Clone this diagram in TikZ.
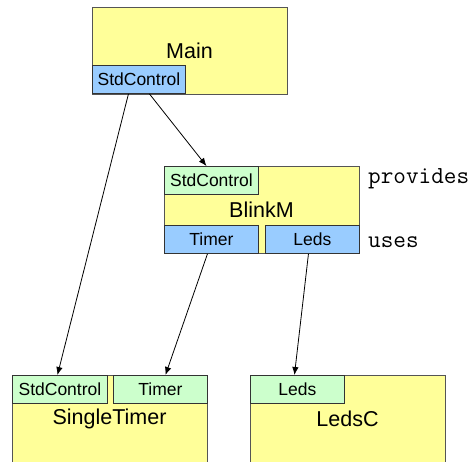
\documentclass[tikz,border=0pt]{standalone}
\usepackage{fontspec}
\setmainfont{Liberation Sans}
\usetikzlibrary{arrows.meta}
\definecolor{compyellow}{HTML}{FFFF99}
\definecolor{portblue}{HTML}{99CCFF}
\definecolor{portgreen}{HTML}{CCFFCC}
\definecolor{edgegray}{HTML}{555555}
\tikzset{
  comp/.style={draw=edgegray, line width=0.9pt, fill=compyellow, rectangle, inner sep=0pt,
    anchor=north west, minimum width=195pt, minimum height=#1},
  portbox/.style={draw=black!80, line width=0.9pt, rectangle, inner sep=0pt,
    anchor=north west, minimum width=94pt, minimum height=28pt, font=\fontsize{17.5}{20}\selectfont},
  usesport/.style={portbox, fill=portblue},
  provport/.style={portbox, fill=portgreen},
  complabel/.style={font=\fontsize{21.5}{24}\selectfont, inner sep=0pt},
  kw/.style={font=\ttfamily\fontsize{24.5}{26}\selectfont, inner sep=0pt, anchor=base west},
  wire/.style={line width=0.8pt, -{Latex[length=8pt,width=6.5pt]}}
}
\begin{document}
\begin{tikzpicture}[x=1pt,y=-1pt]
\useasboundingbox (0,0) rectangle (476,461);
\clip (0,0) rectangle (476,461);

% Main
\node[comp=87pt] (main) at (92,7) {};
\node[complabel] at (189.5,51) {Main};
\node[usesport, minimum width=93pt] (mainsc) at (92,65) {StdControl};

% BlinkM
\node[comp=87pt] (blink) at (164,166) {};
\node[provport] (blinksc) at (164,166) {StdControl};
\node[complabel] at (261.5,210) {BlinkM};
\node[usesport] (blinktimer) at (164,225) {Timer};
\node[usesport] (blinkleds) at (265,225) {Leds};
\node[kw] (prov) at (368,183) {provides};
\node[kw] (uses) at (368,247) {uses};

% SingleTimer
\node[comp=100pt] (single) at (12,375) {};
\node[provport, minimum width=95pt] (stsc) at (12,375) {StdControl};
\node[provport] (sttimer) at (113,375) {Timer};
\node[complabel] at (109.5,419) {SingleTimer};

% LedsC
\node[comp=100pt] (ledsc) at (250,375) {};
\node[provport] (lcleds) at (250,375) {Leds};
\node[complabel] at (347.5,419) {LedsC};

% wiring end points on the port borders
\coordinate (m1) at ([xshift=-10.5pt]mainsc.south);
\coordinate (m2) at ([xshift=10.5pt]mainsc.south);
\coordinate (s1) at ([xshift=-2.5pt]stsc.north);
\coordinate (b1) at ([xshift=-5pt]blinksc.north);
\coordinate (b2) at ([xshift=-4pt]blinktimer.south);
\coordinate (s2) at ([xshift=5pt]sttimer.north);
\coordinate (b3) at ([xshift=-4pt]blinkleds.south);
\coordinate (l1) at ([xshift=-3pt]lcleds.north);

\draw[wire] (m1) -- (s1);
\draw[wire] (m2) -- (b1);
\draw[wire] (b2) -- (s2);
\draw[wire] (b3) -- (l1);
\end{tikzpicture}
\end{document}
